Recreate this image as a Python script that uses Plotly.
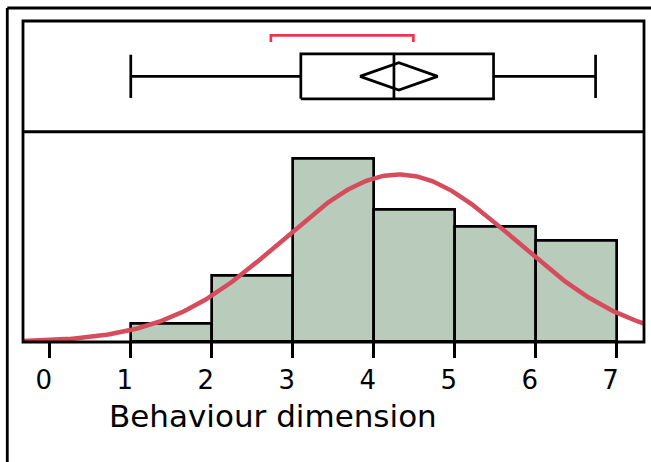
"""
Histogram with fitted normal curve and outlier box plot (behaviour dimension).
"""

import numpy as np
import plotly.graph_objects as go

# ---- data ----
BIN_LEFT = [1, 2, 3, 4, 5, 6]
DENSITY = [0.031, 0.110, 0.303, 0.219, 0.190, 0.167]

WHISKER_LO = 1.0
Q1 = 3.10
MEDIAN = 4.25
Q3 = 5.48
WHISKER_HI = 6.74
MEAN = 4.31
MEAN_CI = 0.48          # half width of the mean diamond
SHORTEST_HALF = [2.73, 4.49]
FIT_SD = 1.44

X_TICKS = [0, 1, 2, 3, 4, 5, 6, 7]
X_RANGE = [-0.331, 7.338]

BAR_FILL = "#b9cbbb"
CURVE = "#d64c5c"
BRACKET = "#e8374d"
INK = "black"
FONT = "DejaVu Sans, Liberation Sans, Arial, sans-serif"

SPLIT = 0.655  # boundary between histogram and box panel (paper coords)

fig = go.Figure()

# histogram bars
fig.add_trace(go.Bar(
    x=[b + 0.5 for b in BIN_LEFT], y=DENSITY, width=1,
    marker=dict(color=BAR_FILL, line=dict(color=INK, width=2.7)),
    xaxis="x", yaxis="y", showlegend=False, hoverinfo="skip",
))

# fitted normal curve
xs = np.linspace(X_RANGE[0], X_RANGE[1], 300)
ys = np.exp(-0.5 * ((xs - MEAN) / FIT_SD) ** 2) / (FIT_SD * np.sqrt(2 * np.pi))
fig.add_trace(go.Scatter(
    x=xs, y=ys, mode="lines", line=dict(color=CURVE, width=4.5),
    xaxis="x", yaxis="y", showlegend=False, hoverinfo="skip",
))

# ---- box plot panel (y in [0, 1]) ----
mid, bh, ch, dh = 0.5, 0.203, 0.196, 0.123
box_line = dict(color=INK, width=2.7)

def seg(xv, yv, line=box_line):
    fig.add_trace(go.Scatter(x=xv, y=yv, mode="lines", line=line,
                             xaxis="x2", yaxis="y2", showlegend=False, hoverinfo="skip"))

seg([WHISKER_LO, Q1], [mid, mid])
seg([Q3, WHISKER_HI], [mid, mid])
seg([WHISKER_LO, WHISKER_LO], [mid - ch, mid + ch])
seg([WHISKER_HI, WHISKER_HI], [mid - ch, mid + ch])
seg([Q1, Q3, Q3, Q1, Q1], [mid - bh, mid - bh, mid + bh, mid + bh, mid - bh])
seg([MEDIAN, MEDIAN], [mid - bh, mid + bh])
seg([MEAN - MEAN_CI, MEAN, MEAN + MEAN_CI, MEAN, MEAN - MEAN_CI],
    [mid, mid + dh, mid, mid - dh, mid])
seg([SHORTEST_HALF[0], SHORTEST_HALF[0], SHORTEST_HALF[1], SHORTEST_HALF[1]],
    [0.81, 0.871, 0.871, 0.81], line=dict(color=BRACKET, width=2.7))

frame = dict(color=INK, width=2.8)
shapes = [
    dict(type="rect", xref="paper", yref="paper", x0=0, x1=1, y0=0, y1=1, line=frame),
    dict(type="line", xref="paper", yref="paper", x0=0, x1=1, y0=SPLIT, y1=SPLIT, line=frame),
    # outer frame (top and left edges visible)
    dict(type="line", xref="paper", yref="paper", x0=-0.0253, x1=1.2, y0=1.0405, y1=1.0405, line=frame),
    dict(type="line", xref="paper", yref="paper", x0=-0.0253, x1=-0.0253, y0=1.0405, y1=-0.6, line=frame),
]

fig.update_layout(
    width=651, height=462,
    margin=dict(l=23, r=7, t=21, b=120),
    paper_bgcolor="white", plot_bgcolor="white",
    font=dict(family=FONT, color=INK),
    bargap=0,
    shapes=shapes,
    xaxis=dict(
        range=X_RANGE, domain=[0, 1], anchor="y",
        tickvals=X_TICKS, ticktext=[str(t) for t in X_TICKS],
        ticks="outside", ticklen=15, tickwidth=2.7, tickcolor=INK,
        ticklabelshift=-6, tickfont=dict(size=26, family=FONT),
        showgrid=False, zeroline=False, showline=False,
    ),
    yaxis=dict(range=[0, 0.3477], domain=[0, SPLIT], visible=False),
    xaxis2=dict(range=X_RANGE, domain=[0, 1], anchor="y2", matches="x",
                showticklabels=False, ticks="", showgrid=False, zeroline=False, showline=False),
    yaxis2=dict(range=[0, 1], domain=[SPLIT, 1], visible=False),
    annotations=[dict(
        text="Behaviour dimension", xref="paper", yref="paper",
        x=0.403, y=-0.23, xanchor="center", yanchor="middle",
        showarrow=False, font=dict(size=31, family=FONT, color=INK),
    )],
)

# drop the browser's default 8px body margin so the figure sits at the page origin
fig.write_html("out.html", config={"displayModeBar": False},
               post_script="document.body.style.margin='0';")
